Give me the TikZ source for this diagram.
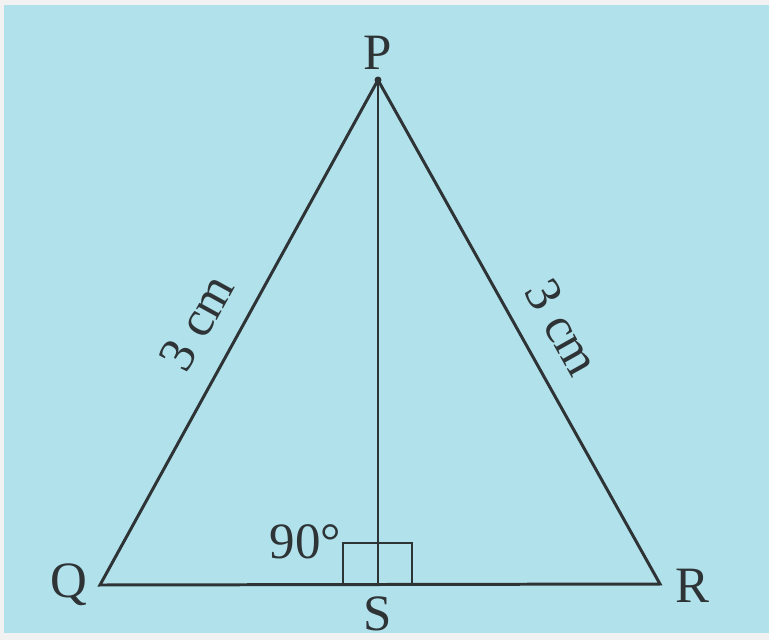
\documentclass[tikz,border=0pt]{standalone}
\usepackage{fontspec}
\setmainfont{Liberation Serif}
\usetikzlibrary{positioning}
\definecolor{skyback}{HTML}{B1E1EB}
\definecolor{pageback}{HTML}{F2F2F2}
\definecolor{inkline}{HTML}{2E3436}

\begin{document}
\begin{tikzpicture}[
  x=0.02cm, y=-0.02cm,
  side/.style={draw=inkline, line width=1.7pt, line join=miter},
  lbl/.style={text=inkline, font=\fontsize{29}{32}\selectfont, inner sep=1pt},
  len/.style={lbl, sloped},
]
% background
\fill[pageback] (0,0) rectangle (769,640);
\fill[skyback] (4,5) rectangle (769,633);
\useasboundingbox (0,0) rectangle (769,640);

\coordinate (P) at (378,80);
\coordinate (Q) at (100,585);
\coordinate (R) at (660,584);
\coordinate (S) at (378,585);

\draw[side] (Q) -- (P) -- (R) -- cycle;
\draw[side] (P) -- (S);
\fill[inkline] (P) circle (3.5);

% right angle mark
\draw[side, line width=1.5pt] (343,585) |- (412,543) -- (412,585);

\node[lbl, above=5pt of P] (lP) {P};
\node[lbl, left=6pt of Q] (lQ) {Q};
\node[lbl, anchor=north west] (lR) at (673,567) {R};
\node[lbl, anchor=north] (lS) at (378,595) {S};
\node[lbl, anchor=south east] (l90) at (343,561) {90°};

\path (Q) -- node[len, above=13pt, pos=0.48] (lQP) {3 cm} (P);
\path (P) -- node[len, above=12pt, pos=0.53] (lPR) {3 cm} (R);
\end{tikzpicture}
\end{document}
